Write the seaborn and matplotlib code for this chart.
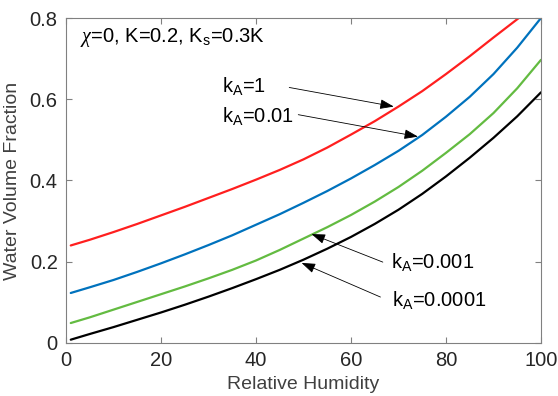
import numpy as np
import pandas as pd
import matplotlib
matplotlib.use("Agg")
import matplotlib.pyplot as plt
import seaborn as sns

# ---- data ----
humidity = [1, 5, 10, 15, 20, 25, 30, 35, 40, 45, 50, 55, 60, 65, 70, 75, 80, 85, 90, 95, 100]
wvf_kA_1 = [0.240, 0.254, 0.273, 0.293, 0.314, 0.335, 0.357, 0.379, 0.402, 0.426, 0.452,
            0.481, 0.513, 0.546, 0.582, 0.620, 0.662, 0.706, 0.752, 0.797, 0.843]
wvf_kA_001 = [0.123, 0.137, 0.155, 0.175, 0.196, 0.218, 0.241, 0.265, 0.291, 0.317, 0.345,
              0.374, 0.405, 0.438, 0.473, 0.512, 0.557, 0.606, 0.662, 0.727, 0.800]
wvf_kA_0001 = [0.049, 0.063, 0.082, 0.101, 0.120, 0.139, 0.159, 0.180, 0.203, 0.229, 0.257,
               0.285, 0.315, 0.348, 0.384, 0.424, 0.468, 0.514, 0.566, 0.627, 0.697]
wvf_kA_00001 = [0.008, 0.022, 0.039, 0.057, 0.075, 0.094, 0.114, 0.135, 0.157, 0.180, 0.205,
                0.232, 0.261, 0.293, 0.328, 0.367, 0.410, 0.456, 0.505, 0.558, 0.617]
series_names = ["kA=1", "kA=0.01", "kA=0.001", "kA=0.0001"]
series_colors = ["#ff1f1f", "#0072BD", "#63bb41", "#000000"]
x_ticks = [0, 20, 40, 60, 80, 100]
y_ticks = [0, 0.2, 0.4, 0.6, 0.8]
y_ticklabels = ["0", "0.2", "0.4", "0.6", "0.8"]

df = pd.DataFrame({
    "Relative Humidity": humidity * 4,
    "Water Volume Fraction": wvf_kA_1 + wvf_kA_001 + wvf_kA_0001 + wvf_kA_00001,
    "series": sum([[n] * len(humidity) for n in series_names], []),
})

sns.set_theme(style="ticks")
plt.rcParams["font.family"] = ["Liberation Sans", "DejaVu Sans"]
plt.rcParams["mathtext.fontset"] = "custom"
plt.rcParams["mathtext.rm"] = "Liberation Sans"
plt.rcParams["mathtext.it"] = "Liberation Serif:italic"
plt.rcParams["mathtext.bf"] = "Liberation Sans:bold"

grey = "#262626"
fig = plt.figure(figsize=(5.58, 3.96), dpi=100)
ax = fig.add_axes([0.1183, 0.134, 0.8512, 0.8205])

sns.lineplot(data=df, x="Relative Humidity", y="Water Volume Fraction",
             hue="series", palette=dict(zip(series_names, series_colors)),
             linewidth=1.6, ax=ax, legend=False)

ax.set_xlim(0, 100)
ax.set_ylim(0, 0.8)
ax.set_xticks(x_ticks)
ax.set_yticks(y_ticks)
ax.set_yticklabels(y_ticklabels)
for s in ax.spines.values():
    s.set_visible(True)
    s.set_color("#808080")
    s.set_linewidth(0.8)
ax.tick_params(direction="in", length=4, width=0.8, color="#808080",
               labelsize=14.5, labelcolor=grey, top=True, right=True, pad=6)
ax.set_xlabel("Relative Humidity", fontsize=14, color="#404040", labelpad=4)
ax.set_ylabel("Water Volume Fraction", fontsize=14, color="#404040", labelpad=6)

txt_kw = dict(fontsize=14.5, color="black")
ax.text(2.9, 0.74, r"$\chi$=0, K=0.2, K$_\mathrm{s}$=0.3K", **txt_kw)
ax.text(32.9, 0.619, r"k$_\mathrm{A}$=1", **txt_kw)
ax.text(32.9, 0.545, r"k$_\mathrm{A}$=0.01", **txt_kw)
ax.text(68.4, 0.184, r"k$_\mathrm{A}$=0.001", **txt_kw)
ax.text(68.6, 0.091, r"k$_\mathrm{A}$=0.0001", **txt_kw)

arrows = [((47.0, 0.629), (69.0, 0.582)),
          ((48.9, 0.562), (74.1, 0.508)),
          ((66.7, 0.199), (51.7, 0.268)),
          ((66.2, 0.113), (49.6, 0.197))]
for start, tip in arrows:
    ax.annotate("", xy=tip, xytext=start,
                arrowprops=dict(arrowstyle="-|>,head_length=0.7,head_width=0.25",
                                color="black", lw=0.6, shrinkA=0, shrinkB=0))

fig.savefig("out.png", dpi=100)
